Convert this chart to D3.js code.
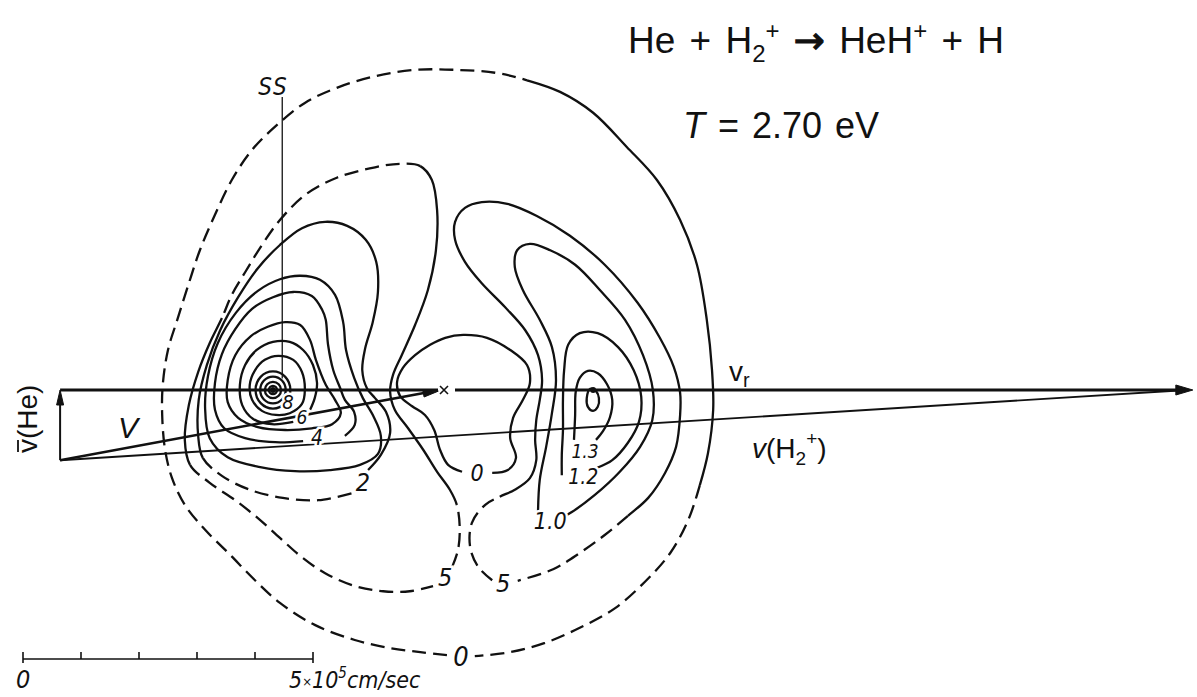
<!DOCTYPE html>
<html>
<head>
<meta charset="utf-8">
<script src="https://cdn.jsdelivr.net/npm/d3@7"></script>
<style>
  body { margin: 0; background: #fff; }
  svg { display: block; background: #fff; }
</style>
</head>
<body>
<svg id="chart" width="1197" height="697"></svg>
<script>
// Velocity-space contour map of HeH+ product flux, c.m. frame.
// All coordinates in units of 10^4 cm/s, origin at the centre-of-mass velocity.

// ---- Newton diagram vectors ----
const labOrigin = [-65.5, -12.1];
const heTip = [-65.5, 0];
const h2Tip = [129.8, 0];
const cmPoint = [0, 0];
const ssLine = [[-27.2, 50.5], [-27.2, 2]];

// ---- contour lines ----
const outerZero = [[1.2,-45.7],[-3.4,-45.2],[-8.6,-44.5],[-14.7,-43.1],[-21.6,-40.5],[-27.6,-36.7],[-31.9,-32.8],[-36.2,-28.4],[-40.5,-24.1],[-44.0,-19.8],[-46.2,-15.2],[-47.4,-10.3],[-47.9,-4.3],[-47.8,0.9],[-46.9,6.9],[-45.3,12.1],[-43.4,18.1],[-41.4,24.1],[-38.8,30.2],[-35.9,36.2],[-32.4,41.4],[-28.1,45.7],[-23.3,49.5],[-17.8,52.1],[-11.2,54.1],[-4.3,55.2],[2.6,55.2],[9.5,54.7],[15.0,53.4],[20.7,51.4],[26.4,47.8],[32.2,41.9],[37.4,36.2],[41.4,29.3],[44.3,21.6],[46.0,12.1],[46.9,3.4],[47.1,-3.4],[46.2,-10.9],[44.8,-16.4],[42.8,-22.4],[39.7,-28.1],[35.3,-33.1],[30.2,-37.6],[24.1,-41.0],[18.1,-43.6],[12.1,-45.2],[6.0,-45.9]];

const leftFive = [[2.1,-30.5],[3.1,-27.6],[3.4,-23.8],[2.9,-19.8],[1.7,-17.2],[-0.5,-14.1],[-2.9,-10.3],[-5.5,-6.6],[-7.8,-3.4],[-8.6,-0.3],[-8.1,2.6],[-6.6,6.0],[-4.3,11.2],[-2.1,17.2],[-0.7,24.1],[-0.5,31.0],[-1.4,36.2],[-3.4,38.6],[-6.9,39.0],[-11.2,38.4],[-17.8,36.6],[-23.3,33.6],[-27.6,29.3],[-30.7,25.0],[-33.6,20.3],[-35.9,16.4],[-37.6,12.4],[-39.7,8.1],[-41.7,3.1],[-43.3,-2.6],[-44.0,-8.6],[-43.1,-12.9],[-39.7,-16.0],[-35.3,-19.0],[-31.4,-22.1],[-27.6,-25.5],[-24.1,-28.6],[-19.8,-31.6],[-14.7,-33.8],[-9.8,-34.7],[-5.2,-34.7],[-1.2,-33.8]];

const rightFive = [[9.0,-32.8],[6.6,-30.5],[5.2,-27.1],[5.5,-22.9],[7.8,-19.8],[10.3,-18.4],[12.9,-17.2],[15.5,-15.2],[16.6,-12.1],[16.4,-8.6],[16.6,-5.2],[17.2,-1.7],[17.6,1.7],[16.9,6.0],[14.7,10.3],[11.2,14.3],[7.2,18.4],[4.3,22.1],[2.6,25.9],[2.6,29.0],[4.3,31.4],[7.2,32.4],[11.6,32.1],[16.7,30.0],[22.4,26.6],[28.4,21.6],[34.1,15.0],[37.9,9.0],[40.3,4.0],[41.4,-0.5],[41.4,-4.3],[40.7,-9.8],[38.8,-14.3],[35.9,-18.6],[32.4,-21.7],[28.4,-25.0],[24.1,-28.1],[19.5,-30.9],[13.4,-32.9]];

const centreZero = [[9.0,-14.3],[11.7,-13.8],[13.1,-11.7],[12.1,-8.3],[12.6,-4.8],[14.3,-1.7],[15.5,1.2],[15.0,4.3],[12.1,6.9],[8.1,9.0],[4.0,9.5],[0.9,9.0],[-1.7,7.8],[-4.3,6.0],[-6.4,3.8],[-7.4,1.4],[-6.9,-1.0],[-4.8,-2.8],[-2.6,-4.3],[-1.0,-6.9],[0,-10.3],[1.4,-12.9],[3.8,-14.1]];

const leftTwo = [[-12.4,-13.8],[-10.2,-11.2],[-8.6,-7.4],[-9.3,-3.8],[-11.2,-1.4],[-12.6,0.3],[-13.4,3.4],[-12.9,7.2],[-11.6,11.7],[-10.7,16.9],[-11.0,22.1],[-12.8,25.9],[-16.0,28.3],[-19.8,29.0],[-23.8,27.9],[-27.6,25.0],[-31.4,21.0],[-34.8,16.0],[-37.9,10.3],[-40.2,4.3],[-41.6,-1.7],[-41.7,-7.8],[-40.9,-11.7],[-37.6,-14.8],[-32.8,-17.2],[-27.1,-18.6],[-21.0,-19.0],[-15.2,-17.8]];

const leftThree = [[-24.1,19.7],[-20.7,19.0],[-18.1,16.4],[-16.7,11.7],[-16.2,6.9],[-14.8,2.1],[-13.3,-1.4],[-11.5,-4.5],[-10.2,-7.9],[-10.7,-11.0],[-13.8,-12.9],[-19.0,-13.8],[-25.0,-14.0],[-31.0,-13.3],[-36.6,-11.6],[-39.7,-8.3],[-40.5,-3.1],[-40.0,2.4],[-38.3,8.1],[-35.2,13.3],[-31.4,17.1],[-27.6,19.1]];

const leftFour = [[-16.4,-7.9],[-14.7,-6.0],[-14.8,-3.8],[-16.4,-1.7],[-17.2,0.3],[-18.4,3.4],[-19.3,7.8],[-19.7,12.1],[-20.3,13.8],[-22.1,16.2],[-25.3,16.9],[-28.8,16.0],[-32.4,14.0],[-35.3,10.5],[-37.6,6.2],[-38.8,1.2],[-38.8,-3.4],[-37.2,-6.6],[-33.6,-8.3],[-28.4,-9.0],[-23.6,-8.8]];

const leftFiveInner = [[-26.7,11.7],[-24.1,11.2],[-22.4,8.6],[-21.4,5.2],[-19.7,0.9],[-18.1,-1.7],[-17.1,-4.0],[-18.6,-5.9],[-22.1,-6.6],[-26.7,-6.9],[-31.4,-6.4],[-34.8,-4.8],[-36.6,-2.1],[-36.6,1.7],[-35.3,6.0],[-32.6,9.3],[-29.7,10.9]];

const leftSix = [[-25.3,-5.5],[-29.0,-5.9],[-32.2,-5.0],[-34.1,-2.6],[-34.5,0.9],[-33.6,4.3],[-31.6,6.9],[-28.8,8.3],[-25.9,8.3],[-23.6,6.9],[-21.9,4.3],[-21.2,1.2],[-21.6,-1.4],[-22.4,-3.4]];

const leftSeven = [[-27.9,5.9],[-25.3,5.2],[-23.8,3.1],[-23.3,0],[-23.8,-2.4],[-25.9,-4.0],[-28.3,-4.3],[-30.7,-3.6],[-32.4,-1.7],[-32.8,0.9],[-31.9,3.4],[-30.2,5.2]];

const leftPeak = [-28.8, 0];
const peakRings = [[0.7,0.7],[1.4,1.4],[2.2,2.3],[3.0,3.2]];

const rightOne0 = [[16.9,-21.0],[17.2,-15.5],[18.3,-9.8],[19.3,-4.0],[20.0,1.7],[19.3,7.4],[17.2,12.1],[14.3,17.2],[12.9,21.2],[13.3,24.1],[15.5,25.2],[19.0,24.1],[23.3,21.6],[27.6,17.2],[31.9,12.1],[35.0,6.0],[36.7,0],[36.6,-5.2],[34.5,-9.8],[31.0,-14.1],[26.7,-18.1],[22.8,-21.0],[21.2,-21.9]];

const rightOne2 = [[21.0,-14.7],[21.0,-11.2],[21.2,-6.9],[21.2,-1.7],[21.4,3.4],[22.1,7.8],[24.1,9.8],[27.2,9.8],[30.7,7.4],[33.4,3.4],[34.7,-1.2],[34.3,-5.5],[32.4,-9.1],[29.7,-12.1],[27.1,-13.4]];

const rightOne3 = [[23.1,-8.6],[23.3,-4.3],[23.4,-0.3],[24.1,2.1],[25.5,3.3],[27.2,2.9],[28.8,1.0],[29.7,-1.7],[29.3,-4.7],[28.1,-7.1],[26.9,-8.6]];

const rightPeakLoop = [[25.9,0.2],[26.9,-0.2],[27.4,-1.4],[27.2,-2.9],[26.4,-3.6],[25.5,-2.9],[25.3,-1.4]];
const rightPeak = [26.4, 0];

// ---- contour labels ----
const labelText = ["0", "5", "5", "0", "2", "4", "6", "8", "1.0", "1.2", "1.3"];
const labelAt = [[3.6,-46.0],[0.9,-32.4],[10.9,-33.3],[6.4,-14.3],[-13.3,-15.9],[-21.2,-8.3],[-23.8,-4.7],[-26.2,-2.0],[19.0,-22.6],[24.7,-15.0],[25.0,-10.5]];

// ---- scale bar (10^5 cm/s) ----
const barTicks = [0, 1, 2, 3, 4, 5];

// ---------------------------------------------------------------
const x = d3.scaleLinear().domain([0, 50]).range([440, 730]);
const y = d3.scaleLinear().domain([0, 50]).range([390, 100]);
const P = p => [x(p[0]), y(p[1])];

const svg = d3.select("#chart");
const ink = "#111";

const labelSizes = [27, 25, 25, 23, 25, 21, 19, 20, 23, 21, 19];
const contourSpecs = [
  { pts: outerZero, dashed: [[0, 28], [39, 47]] },
  { pts: leftFive, dashed: [[0, 3], [17, 26], [31, 41]] },
  { pts: rightFive, dashed: [[0, 5], [34, 38]] },
  { pts: centreZero, dashed: [] },
  { pts: leftTwo, dashed: [[22, 27]] },
  { pts: leftThree, closed: true },
  { pts: leftFour, dashed: [] },
  { pts: leftFiveInner, closed: true },
  { pts: leftSix, dashed: [] },
  { pts: leftSeven, closed: true },
  { pts: rightOne0, dashed: [] },
  { pts: rightOne2, dashed: [] },
  { pts: rightOne3, dashed: [] },
  { pts: rightPeakLoop, closed: true }
];

const cg = svg.append("g")
  .attr("fill", "none")
  .attr("stroke", ink)
  .attr("stroke-width", 2.3)
  .attr("stroke-linejoin", "round");

// draws an open contour, splitting its Catmull-Rom segments into solid and dashed runs
function drawOpen(pts, dashed) {
  const d = d3.line().curve(d3.curveCatmullRom.alpha(0.5))(pts.map(P));
  const toks = d.match(/[MLC][^MLC]*/g);
  const nums = t => t.slice(1).split(/[ ,]+/).filter(s => s.length).map(Number);
  let start = nums(toks[0]);
  const segs = [];
  for (let k = 1; k < toks.length; k++) {
    const n = nums(toks[k]);
    segs.push({ cmd: toks[k][0], n, from: start });
    start = n.slice(-2);
  }
  const isDashed = i => dashed.some(([a, b]) => i >= a && i < b);
  let i = 0;
  while (i < segs.length) {
    const dash = isDashed(i);
    let s = "M" + segs[i].from.join(",");
    let j = i;
    while (j < segs.length && isDashed(j) === dash) {
      s += segs[j].cmd + segs[j].n.join(",");
      j++;
    }
    cg.append("path").attr("d", s)
      .attr("stroke-dasharray", dash ? "14,7" : null);
    i = j;
  }
}

contourSpecs.forEach(c => {
  if (c.closed) {
    cg.append("path")
      .attr("d", d3.line().curve(d3.curveCatmullRomClosed.alpha(0.5))(c.pts.map(P)));
  } else {
    drawOpen(c.pts, c.dashed);
  }
});

// concentric rings round the left maximum
cg.selectAll("ellipse.ring").data(peakRings).join("ellipse")
  .attr("class", "ring")
  .attr("cx", x(leftPeak[0])).attr("cy", y(leftPeak[1]))
  .attr("rx", d => x(d[0]) - x(0)).attr("ry", d => y(0) - y(d[1]));

svg.selectAll("circle.peak").data([leftPeak, rightPeak]).join("circle")
  .attr("class", "peak")
  .attr("cx", d => x(d[0])).attr("cy", d => y(d[1]))
  .attr("r", 3).attr("fill", ink);

// ---- Newton diagram ----
const vg = svg.append("g").attr("stroke", ink).attr("fill", "none");

function arrowHead(tip, from, len, half) {
  const [tx, ty] = P(tip), [fx, fy] = P(from);
  const a = Math.atan2(ty - fy, tx - fx);
  const bx = tx - len * Math.cos(a), by = ty - len * Math.sin(a);
  const nx = -Math.sin(a) * half, ny = Math.cos(a) * half;
  svg.append("path")
    .attr("d", `M${tx},${ty}L${bx + nx},${by + ny}L${bx - nx},${by - ny}Z`)
    .attr("fill", ink).attr("stroke", ink).attr("stroke-width", 1);
}

// SS line
vg.append("line")
  .attr("x1", x(ssLine[0][0])).attr("y1", y(ssLine[0][1]))
  .attr("x2", x(ssLine[1][0])).attr("y2", y(ssLine[1][1]))
  .attr("stroke-width", 1.3);

// v(H2+)
vg.append("line")
  .attr("x1", x(labOrigin[0])).attr("y1", y(labOrigin[1]))
  .attr("x2", x(h2Tip[0]) - 6).attr("y2", y(h2Tip[1]))
  .attr("stroke-width", 1.9);

// v(He)
vg.append("line")
  .attr("x1", x(labOrigin[0])).attr("y1", y(labOrigin[1]))
  .attr("x2", x(heTip[0])).attr("y2", y(heTip[1]) + 6)
  .attr("stroke-width", 2);
arrowHead(heTip, labOrigin, 15, 3.5);

// relative velocity v_r, broken at the c.m. mark
vg.append("line")
  .attr("x1", x(heTip[0])).attr("y1", y(heTip[1]))
  .attr("x2", x(cmPoint[0]) - 2).attr("y2", y(cmPoint[1]))
  .attr("stroke-width", 2.9);
vg.append("line")
  .attr("x1", x(cmPoint[0]) + 15).attr("y1", y(cmPoint[1]))
  .attr("x2", x(h2Tip[0]) - 6).attr("y2", y(h2Tip[1]))
  .attr("stroke-width", 2.9);
arrowHead(h2Tip, heTip, 17, 5);

// V (c.m. velocity)
vg.append("line")
  .attr("x1", x(labOrigin[0])).attr("y1", y(labOrigin[1]))
  .attr("x2", x(cmPoint[0]) - 8).attr("y2", y(cmPoint[1]) + 1.5)
  .attr("stroke-width", 2.5);
arrowHead([cmPoint[0] - 0.3, cmPoint[1] - 0.2], labOrigin, 15, 3.2);

// c.m. cross
const cx0 = x(cmPoint[0]) + 4, cy0 = y(cmPoint[1]);
vg.append("path")
  .attr("d", `M${cx0 - 4},${cy0 - 4}L${cx0 + 4},${cy0 + 4}M${cx0 + 4},${cy0 - 4}L${cx0 - 4},${cy0 + 4}`)
  .attr("stroke-width", 1.6);

// ---- contour labels ----
const handFont = "'Liberation Sans Narrow', 'DejaVu Sans Condensed', 'Liberation Sans', sans-serif";
svg.append("g").selectAll("text").data(labelText).join("text")
  .attr("x", (d, i) => x(labelAt[i][0]))
  .attr("y", (d, i) => y(labelAt[i][1]))
  .attr("text-anchor", "middle")
  .attr("dominant-baseline", "central")
  .attr("font-family", handFont)
  .attr("font-style", "italic")
  .attr("font-size", (d, i) => labelSizes[i])
  .attr("fill", ink)
  .attr("stroke", "#fff").attr("stroke-width", 5)
  .attr("paint-order", "stroke")
  .text(d => d);

svg.append("text")
  .attr("x", x(ssLine[0][0]) - 24).attr("y", y(ssLine[0][1]) - 2)
  .attr("font-family", handFont).attr("font-style", "italic")
  .attr("font-size", 24).attr("letter-spacing", 2).attr("fill", ink).text("SS");

// ---- scale bar ----
const barLeft = 23, barY = 659;
const bar = d3.scaleLinear().domain([0, 5]).range([barLeft, barLeft + (x(50) - x(0))]);
const sb = svg.append("g").attr("stroke", ink).attr("stroke-width", 1.6);
sb.append("line").attr("x1", bar(0)).attr("x2", bar(5)).attr("y1", barY).attr("y2", barY);
sb.selectAll("line.tick").data(barTicks).join("line")
  .attr("class", "tick")
  .attr("x1", d => bar(d)).attr("x2", d => bar(d))
  .attr("y1", barY - 7)
  .attr("y2", d => (d === 0 || d === 5) ? barY + 4 : barY);
svg.append("text").attr("x", bar(0) - 7).attr("y", 688)
  .attr("font-family", handFont).attr("font-style", "italic")
  .attr("font-size", 25).attr("fill", ink).text("0");
const unit = svg.append("text").attr("x", bar(5) - 24).attr("y", 688)
  .attr("font-family", handFont).attr("font-style", "italic")
  .attr("font-size", 23).attr("fill", ink);
unit.append("tspan").text("5");
unit.append("tspan").attr("font-size", 13).attr("dy", -2).text("×");
unit.append("tspan").attr("dy", 2).text("10");
unit.append("tspan").attr("font-size", 15).attr("dy", -10).text("5");
unit.append("tspan").attr("dy", 10).text("cm/sec");

// ---- vector labels ----
const sans = "'Liberation Sans', Arial, sans-serif";
const vr = svg.append("text").attr("x", 729).attr("y", 381)
  .attr("font-family", sans).attr("font-size", 28).attr("fill", ink);
vr.append("tspan").text("v");
vr.append("tspan").attr("font-size", 20).attr("dy", 6).text("r");

const vh = svg.append("text").attr("x", 752).attr("y", 458)
  .attr("font-family", sans).attr("font-size", 28).attr("fill", ink);
vh.append("tspan").attr("font-style", "italic").text("v");
vh.append("tspan").text("(H");
vh.append("tspan").attr("font-size", 19).attr("dy", 7).text("2");
vh.append("tspan").attr("font-size", 19).attr("dy", -20).text("+");
vh.append("tspan").attr("dy", 13).text(")");

svg.append("text").attr("x", 118).attr("y", 438)
  .attr("font-family", sans).attr("font-style", "italic")
  .attr("font-size", 30).attr("fill", ink).text("V");

const heG = svg.append("g").attr("transform", "translate(37,453) rotate(-90)");
const heT = heG.append("text").attr("x", 0).attr("y", 0)
  .attr("font-family", sans).attr("font-size", 28).attr("fill", ink);
heT.append("tspan").text("v");
heT.append("tspan").text("(He)");
const vw = heT.node().getSubStringLength(0, 1);
heG.append("line").attr("x1", 1).attr("x2", vw - 1).attr("y1", -19).attr("y2", -19)
  .attr("stroke", ink).attr("stroke-width", 1.8);

// ---- titles ----
const title = svg.append("text").attr("x", 628).attr("y", 53)
  .attr("font-family", sans).attr("font-size", 37).attr("word-spacing", 4).attr("fill", ink);
title.append("tspan").text("He + H");
title.append("tspan").attr("font-size", 24).attr("dy", 9).text("2");
title.append("tspan").attr("font-size", 24).attr("dy", -23).text("+");
title.append("tspan").attr("dy", 14).text(" ");
title.append("tspan").attr("font-family", "'DejaVu Sans', sans-serif")
  .attr("stroke", ink).attr("stroke-width", 1.2).text("\u2192");
title.append("tspan").text(" HeH");
title.append("tspan").attr("font-size", 24).attr("dy", -14).text("+");
title.append("tspan").attr("dy", 14).text(" + H");

const tl = svg.append("text").attr("x", 683).attr("y", 138)
  .attr("font-family", sans).attr("font-size", 36).attr("word-spacing", 3).attr("fill", ink);
tl.append("tspan").attr("font-style", "italic").text("T");
tl.append("tspan").text(" = 2.70 eV");
</script>
</body>
</html>
